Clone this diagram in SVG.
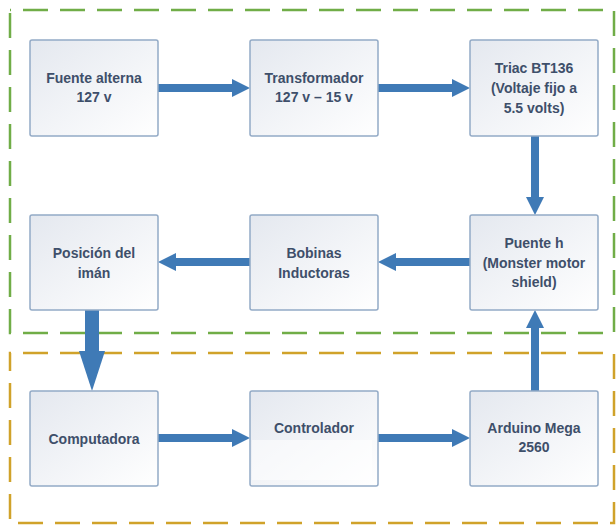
<svg xmlns="http://www.w3.org/2000/svg" width="616" height="525" viewBox="0 0 616 525">
<defs>
<linearGradient id="bg" x1="0" y1="0" x2="1" y2="1">
<stop offset="0" stop-color="#e4e8ef"/>
<stop offset="1" stop-color="#ffffff"/>
</linearGradient>
<marker id="ah" markerWidth="18" markerHeight="18" refX="0" refY="9" orient="auto" markerUnits="userSpaceOnUse">
<path d="M0,0 L18,9 L0,18 z" fill="#3f7ab6"/>
</marker>
<marker id="ahb" markerWidth="40" markerHeight="26" refX="0" refY="13" orient="auto" markerUnits="userSpaceOnUse">
<path d="M0,0 L40,13 L0,26 z" fill="#3f7ab6"/>
</marker>
</defs>
<style>
.box{fill:url(#bg);stroke:#93aac6;stroke-width:1.5}
.t{font-family:"Liberation Sans",Arial,sans-serif;font-weight:bold;font-size:14px;fill:#3e4f6a;text-anchor:middle}
.c{stroke:#3f7ab6;stroke-width:8;fill:none}
.cb{stroke:#3f7ab6;stroke-width:14;fill:none}
</style>
<rect width="616" height="525" fill="#ffffff"/>
<g id="groups">
<rect id="green" x="10" y="10" width="604" height="323" fill="none" stroke="#70ad47" stroke-width="2.5" stroke-dasharray="25 12" stroke-dashoffset="-13"/>
<rect id="orange" x="10" y="353" width="604" height="170" fill="none" stroke="#d0a22a" stroke-width="2.5" stroke-dasharray="25 12" stroke-dashoffset="-13"/>
</g>
<g id="connectors">
<line class="c" x1="158" y1="88" x2="232" y2="88" marker-end="url(#ah)"/>
<line class="c" x1="378" y1="88" x2="452" y2="88" marker-end="url(#ah)"/>
<line class="c" x1="535" y1="136" x2="535" y2="197" marker-end="url(#ah)"/>
<line class="c" x1="470" y1="262" x2="396" y2="262" marker-end="url(#ah)"/>
<line class="c" x1="250" y1="262" x2="176" y2="262" marker-end="url(#ah)"/>
<line class="cb" x1="92" y1="310" x2="92" y2="351" marker-end="url(#ahb)"/>
<line class="c" x1="158" y1="438" x2="232" y2="438" marker-end="url(#ah)"/>
<line class="c" x1="378" y1="438" x2="452" y2="438" marker-end="url(#ah)"/>
<line class="c" x1="535" y1="391" x2="535" y2="328" marker-end="url(#ah)"/>
</g>
<g id="fuente">
<rect class="box" x="30" y="40" width="128" height="96" rx="2"/>
<text class="t" x="94" y="83">Fuente alterna</text>
<text class="t" x="94" y="102">127 v</text>
</g>
<g id="transformador">
<rect class="box" x="250" y="40" width="128" height="96" rx="2"/>
<text class="t" x="314" y="83">Transformador</text>
<text class="t" x="314" y="102">127 v – 15 v</text>
</g>
<g id="triac">
<rect class="box" x="470" y="40" width="128" height="96" rx="2"/>
<text class="t" x="534" y="73">Triac BT136</text>
<text class="t" x="534" y="93">(Voltaje fijo a</text>
<text class="t" x="534" y="113">5.5 volts)</text>
</g>
<g id="posicion">
<rect class="box" x="30" y="215" width="128" height="95" rx="2"/>
<text class="t" x="94" y="258">Posición del</text>
<text class="t" x="94" y="278">imán</text>
</g>
<g id="bobinas">
<rect class="box" x="250" y="215" width="128" height="95" rx="2"/>
<text class="t" x="314" y="258">Bobinas</text>
<text class="t" x="314" y="278">Inductoras</text>
</g>
<g id="puente">
<rect class="box" x="470" y="215" width="128" height="95" rx="2"/>
<text class="t" x="534" y="248">Puente h</text>
<text class="t" x="534" y="268">(Monster motor</text>
<text class="t" x="534" y="287">shield)</text>
</g>
<g id="computadora">
<rect class="box" x="30" y="391" width="128" height="95" rx="2"/>
<text class="t" x="94" y="444">Computadora</text>
</g>
<g id="controlador">
<rect class="box" x="250" y="391" width="128" height="95" rx="2"/>
<rect x="252" y="440" width="120" height="40" fill="#ffffff" opacity="0.5"/>
<text class="t" x="314" y="433">Controlador</text>
</g>
<g id="arduino">
<rect class="box" x="470" y="391" width="128" height="95" rx="2"/>
<text class="t" x="534" y="433">Arduino Mega</text>
<text class="t" x="534" y="452">2560</text>
</g>
</svg>
